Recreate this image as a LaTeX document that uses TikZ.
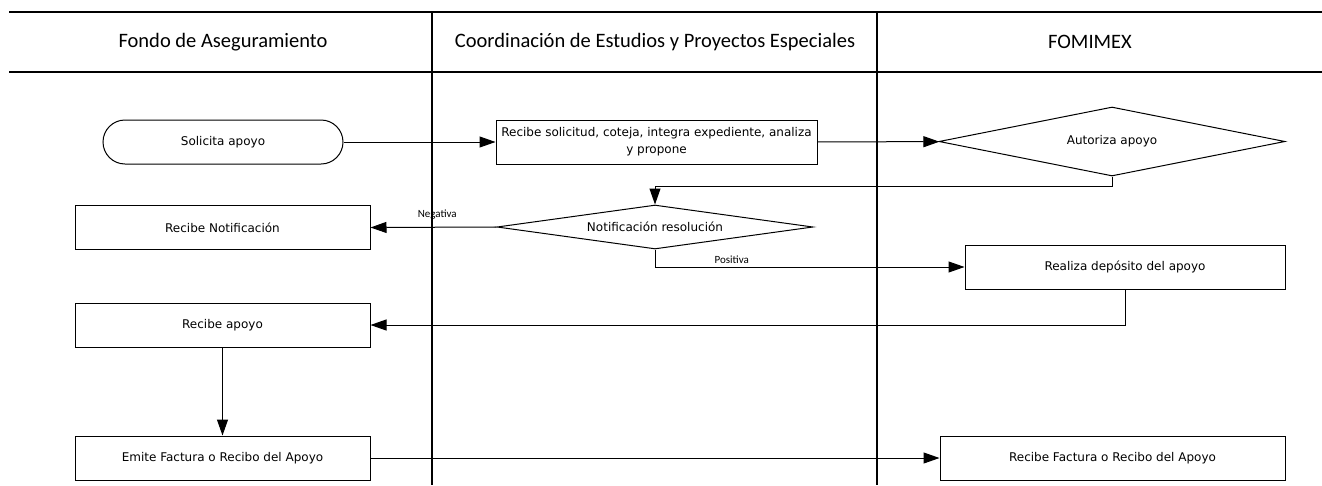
\documentclass[tikz,border=0pt]{standalone}
\usepackage{fontspec}
\setmainfont{DejaVu Sans}
\newfontfamily\lanefont{Carlito}
\usetikzlibrary{shapes.geometric,arrows.meta}

\begin{document}
\begin{tikzpicture}[x=1pt,y=-1pt,
    proc/.style={draw,line width=1pt,inner sep=0pt,minimum height=44pt,align=center,
      font=\fontsize{12}{17}\selectfont},
    dec/.style={draw,diamond,aspect=5,line width=1pt,inner sep=0pt,
      font=\fontsize{12}{17}\selectfont},
    lane/.style={font=\lanefont\fontsize{20.5}{24}\selectfont},
    tag/.style={font=\lanefont\fontsize{11}{13}\selectfont},
    flow/.style={line width=1pt,-{Triangle[length=16pt,width=11pt]}}]
      \useasboundingbox (0,0) rectangle (1322,485);

      % swimlanes
      \draw[line width=2pt] (9,12) -- (1322,12);
      \draw[line width=2pt] (9,72) -- (1322,72);
      \draw[line width=1.5pt] (432,12) -- (432,485);
      \draw[line width=1.5pt] (877,12) -- (877,485);

      \node[lane] (l1) at (223,42) {Fondo de Aseguramiento};
      \node[lane] (l2) at (655,42) {Coordinación de Estudios y Proyectos Especiales};
      \node[lane] (l3) at (1090,42) {FOMIMEX};

      \node[proc,rounded corners=22pt,minimum width=240pt] (sol) at (223,142) {Solicita apoyo};
      \node[proc,minimum width=321pt] (rsol) at (656.5,142) {Recibe solicitud, coteja, integra expediente, analiza\\y propone};
      \node[dec,minimum width=346pt,minimum height=69pt] (aut) at (1112,141.5) {Autoriza apoyo};
      \node[dec,minimum width=316pt,minimum height=44pt] (notif) at (655,227) {Notificación resolución};
      \node[proc,minimum width=295pt] (rnot) at (222.5,227.5) {Recibe Notificación};
      \node[proc,minimum width=320pt] (dep) at (1125,267) {Realiza depósito del apoyo};
      \node[proc,minimum width=295pt] (rap) at (222.5,325) {Recibe apoyo};
      \node[proc,minimum width=295pt] (fac) at (222.5,458) {Emite Factura o Recibo del Apoyo};
      \node[proc,minimum width=345pt] (rfac) at (1112.5,458) {Recibe Factura o Recibo del Apoyo};

      \draw[flow] (sol) -- (rsol);
      \draw[flow] (rsol) -- (aut);
      \draw[flow] (aut.south) -- ++(0,10) -| (notif.north);
      \draw[flow] (notif.west) -- node[tag,above=4pt,pos=0.47] {Negativa} (rnot.east);
      \draw[flow] (notif.south) |- node[tag,above,pos=0.624] {Positiva} (dep.west);
      \draw[flow] (dep.south) |- (rap.east);
      \draw[flow] (rap) -- (fac);
      \draw[flow] (fac) -- (rfac);
    \end{tikzpicture}
\end{document}
